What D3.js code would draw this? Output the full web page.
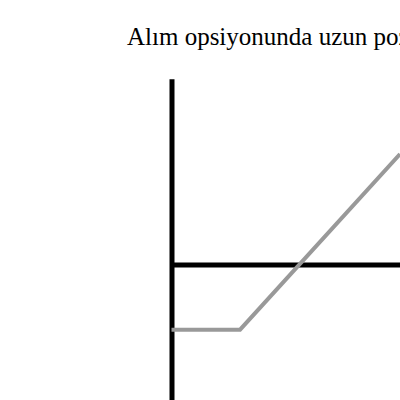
<!DOCTYPE html>
<html>
<head>
<meta charset="utf-8">
<script src="https://cdn.jsdelivr.net/npm/d3@7"></script>
<style>
  html, body { margin: 0; padding: 0; background: #fff; }
  svg { display: block; }
</style>
</head>
<body>
<svg id="chart" width="400" height="400"></svg>
<script>
// Data: long call payoff (profit vs. underlying price)
const titleText = "Alım opsiyonunda uzun pozisyon";
const stockPrices = [0, 30, 100];
const profits = [-26, -26, 44];
const xDomain = [0, 100];
const yDomain = [-54, 74];

const svg = d3.select("#chart");
const x = d3.scaleLinear().domain(xDomain).range([171.5, 400]);
const y = d3.scaleLinear().domain(yDomain).range([400, 78.7]);

// Title
svg.append("text")
  .attr("x", 127)
  .attr("y", 45)
  .attr("font-family", "'Liberation Serif', 'Times New Roman', serif")
  .attr("font-size", 25)
  .attr("fill", "#000")
  .text(titleText);

// Y axis (vertical)
svg.append("g")
  .attr("transform", `translate(${x(0)},0)`)
  .call(d3.axisLeft(y).ticks(0).tickSize(0))
  .call(g => g.select(".domain").attr("stroke", "#000").attr("stroke-width", 5))
  .call(g => g.selectAll("text").remove());

// X axis (horizontal) at y=0
svg.append("g")
  .attr("transform", `translate(0,${y(0)})`)
  .call(d3.axisBottom(x).ticks(0).tickSize(0))
  .call(g => g.select(".domain").attr("stroke", "#000").attr("stroke-width", 5))
  .call(g => g.selectAll("text").remove());

// Payoff line
const data = stockPrices.map((p, i) => ({ p, v: profits[i] }));
svg.append("path")
  .datum(data)
  .attr("fill", "none")
  .attr("stroke", "#999999")
  .attr("stroke-width", 4)
  .attr("d", d3.line().x(d => x(d.p)).y(d => y(d.v)));
</script>
</body>
</html>
